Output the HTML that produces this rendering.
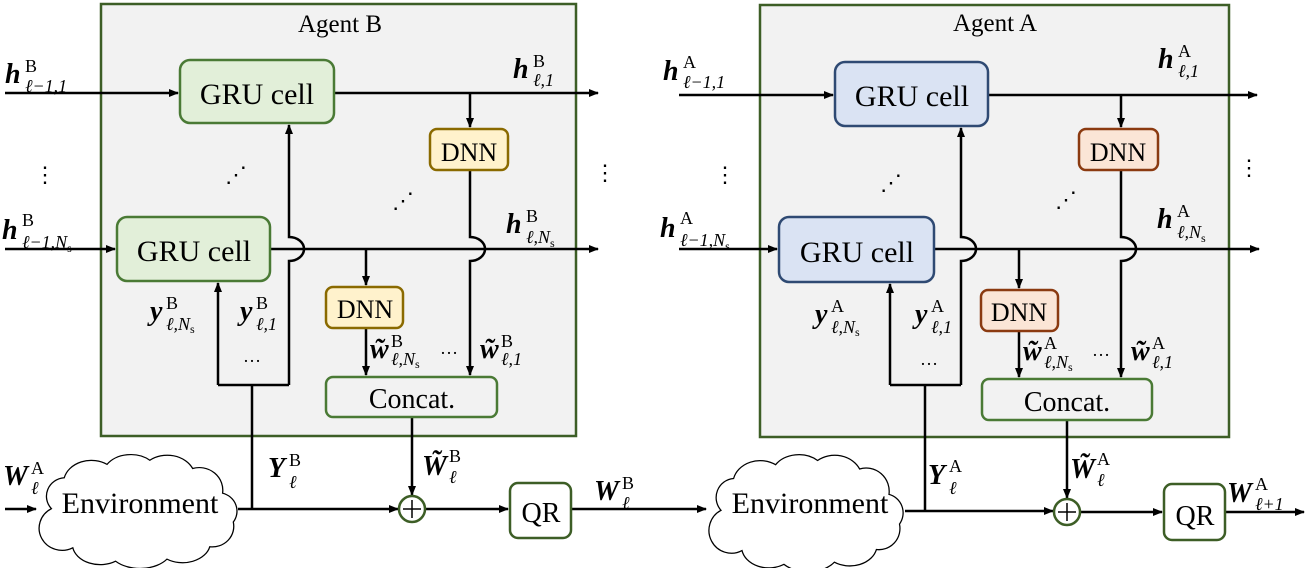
<!DOCTYPE html>
<html><head><meta charset="utf-8"><style>
html,body{margin:0;padding:0;background:#fff;}
svg text, svg tspan{font-family:"Liberation Serif","Times New Roman",Times,"DejaVu Serif",serif;}
.m{font-weight:bold;font-style:italic;font-size:28px;}
.s{font-size:18px;}
.si{font-size:18px;font-style:italic;}
.t{font-size:30px;}
</style></head><body>
<svg width="1308" height="568" viewBox="0 0 1308 568" xmlns="http://www.w3.org/2000/svg" font-family="'Liberation Serif', 'Times New Roman', Times, serif">
<defs>
<marker id="ar" markerWidth="10" markerHeight="8" refX="9" refY="4" orient="auto" markerUnits="userSpaceOnUse">
<path d="M0,0 L10,4 L0,8 Z" fill="#000"/></marker>
<path id="cloud" d="M20,55 A18,18 0 0 1 32,25 A26,22 0 0 1 72,12 A26,20 0 0 1 112,8 A26,22 0 0 1 152,16 A22,22 0 0 1 180,40 A18,18 0 0 1 190,68 A20,20 0 0 1 168,92 A26,20 0 0 1 128,104 A30,20 0 0 1 80,106 A26,20 0 0 1 40,93 A18,18 0 0 1 20,55 Z" fill="#fff" stroke="#000" stroke-width="1.2"/>
</defs>
<g fill="none" stroke-width="2.5">
<rect x="101" y="4" width="475" height="432" fill="#f2f2f2" stroke="#3d5e26"/>
<rect x="760" y="5" width="469" height="432" fill="#f2f2f2" stroke="#3d5e26"/>
</g>
<g fill="none" stroke="#000" stroke-width="2.5">
<line x1="5" y1="93" x2="178" y2="93" marker-end="url(#ar)"/>
<line x1="5" y1="249" x2="115" y2="249" marker-end="url(#ar)"/>
<line x1="334" y1="93" x2="598" y2="93" marker-end="url(#ar)"/>
<line x1="270" y1="249" x2="598" y2="249" marker-end="url(#ar)"/>
<line x1="470" y1="93" x2="470" y2="127" marker-end="url(#ar)"/>
<path d="M470,170 L470,237 A15,12 0 0 1 470,261 L470,375" marker-end="url(#ar)"/>
<line x1="366" y1="249" x2="366" y2="285" marker-end="url(#ar)"/>
<line x1="366" y1="328" x2="366" y2="375" marker-end="url(#ar)"/>
<path d="M252,509 L252,385 M218,385 L289,385 M289,385 L289,261 A15,12 0 0 0 289,237 L289,125" marker-end="url(#ar)"/>
<line x1="218" y1="385" x2="218" y2="283" marker-end="url(#ar)"/>
<line x1="412" y1="417" x2="412" y2="495" marker-end="url(#ar)"/>
<line x1="238" y1="509" x2="398" y2="509" marker-end="url(#ar)"/>
<line x1="425" y1="509" x2="508" y2="509" marker-end="url(#ar)"/>
<line x1="571" y1="509" x2="706" y2="509" marker-end="url(#ar)"/>
<line x1="5" y1="509" x2="36" y2="509" marker-end="url(#ar)"/>
<line x1="679" y1="95" x2="833" y2="95" marker-end="url(#ar)"/>
<line x1="679" y1="249" x2="777" y2="249" marker-end="url(#ar)"/>
<line x1="988" y1="95" x2="1257" y2="95" marker-end="url(#ar)"/>
<line x1="934" y1="249" x2="1259" y2="249" marker-end="url(#ar)"/>
<line x1="1121" y1="95" x2="1121" y2="127" marker-end="url(#ar)"/>
<path d="M1121,170 L1121,237 A15,12 0 0 1 1121,261 L1121,377" marker-end="url(#ar)"/>
<line x1="1019" y1="249" x2="1019" y2="288" marker-end="url(#ar)"/>
<line x1="1019" y1="331" x2="1019" y2="377" marker-end="url(#ar)"/>
<path d="M925,510 L925,385 M890,385 L961,385 M961,385 L961,261 A15,12 0 0 0 961,237 L961,128" marker-end="url(#ar)"/>
<line x1="890" y1="385" x2="890" y2="284" marker-end="url(#ar)"/>
<line x1="1067" y1="420" x2="1067" y2="498" marker-end="url(#ar)"/>
<line x1="905" y1="511" x2="1053" y2="511" marker-end="url(#ar)"/>
<line x1="1080" y1="512" x2="1162" y2="512" marker-end="url(#ar)"/>
<line x1="1225" y1="512" x2="1304" y2="512" marker-end="url(#ar)"/>
</g>
<g stroke-width="2.5">
<rect x="180" y="60" width="154" height="63" rx="10" fill="#e2efd9" stroke="#4a7a35"/>
<rect x="117" y="217" width="153" height="64" rx="10" fill="#e2efd9" stroke="#4a7a35"/>
<rect x="430" y="129" width="78" height="41" rx="7" fill="#fff2cc" stroke="#8a6a00"/>
<rect x="326" y="287" width="77" height="41" rx="7" fill="#fff2cc" stroke="#8a6a00"/>
<rect x="326" y="377" width="171" height="40" rx="7" fill="#f2f2f2" stroke="#4a7a35"/>
<rect x="510" y="483" width="61" height="55" rx="8" fill="#fff" stroke="#3d5e26"/>
<circle cx="412" cy="509" r="13" fill="#fff" stroke="#3d5e26"/>
<rect x="835" y="62" width="153" height="64" rx="10" fill="#dae3f3" stroke="#2f4a73"/>
<rect x="779" y="217" width="155" height="65" rx="10" fill="#dae3f3" stroke="#2f4a73"/>
<rect x="1079" y="129" width="79" height="41" rx="7" fill="#fbe5d6" stroke="#8b3a10"/>
<rect x="981" y="290" width="77" height="41" rx="7" fill="#fbe5d6" stroke="#8b3a10"/>
<rect x="982" y="379" width="170" height="41" rx="7" fill="#f2f2f2" stroke="#4a7a35"/>
<rect x="1164" y="484" width="61" height="56" rx="8" fill="#fff" stroke="#3d5e26"/>
<circle cx="1067" cy="512" r="13" fill="#fff" stroke="#3d5e26"/>
</g>
<g stroke="#000" stroke-width="1.5"><line x1="412" y1="500" x2="412" y2="518"/><line x1="403" y1="509" x2="421" y2="509"/>
<line x1="1067" y1="503" x2="1067" y2="521"/><line x1="1058" y1="512" x2="1076" y2="512"/></g>
<use href="#cloud" transform="translate(30,452) scale(1.07,1.03)"/>
<use href="#cloud" transform="translate(700,452) scale(1.05,1.06)"/>
<g class="t" text-anchor="middle">
<text x="340" y="32" style="font-size:25px">Agent B</text>
<text x="995" y="31" style="font-size:25px">Agent A</text>
<text x="257" y="104">GRU cell</text>
<text x="194" y="261">GRU cell</text>
<text x="469" y="161" style="font-size:26px">DNN</text>
<text x="365" y="318" style="font-size:26px">DNN</text>
<text x="412" y="408" style="font-size:28px">Concat.</text>
<text x="541" y="522" style="font-size:28px">QR</text>
<text x="140" y="513" style="font-size:30px">Environment</text>
<text x="810" y="513" style="font-size:30px">Environment</text>
<text x="912" y="106">GRU cell</text>
<text x="857" y="262">GRU cell</text>
<text x="1118" y="161" style="font-size:26px">DNN</text>
<text x="1019" y="321" style="font-size:26px">DNN</text>
<text x="1067" y="411" style="font-size:28px">Concat.</text>
<text x="1195" y="525" style="font-size:28px">QR</text>
</g>
<g font-size="22">
<text x="34" y="182">⋮</text><text x="594" y="180">⋮</text>
<text x="714" y="182">⋮</text><text x="1238" y="175">⋮</text>
<text x="225" y="182">⋰</text><text x="392" y="208">⋰</text>
<text x="880" y="190">⋰</text><text x="1055" y="207">⋰</text>
<text x="243" y="362" font-size="18">…</text><text x="920" y="365" font-size="18">…</text>
<text x="440" y="354" font-size="18">…</text><text x="1092" y="356" font-size="18">…</text>
</g>
<g>
<text x="5" y="83"><tspan class="m">h</tspan><tspan class="s" x="25" y="72">B</tspan><tspan class="si" x="25" y="92">ℓ−1,1</tspan></text>
<text x="2" y="239"><tspan class="m">h</tspan><tspan class="s" x="22" y="226">B</tspan><tspan class="si" x="22" y="248">ℓ−1,N</tspan><tspan style="font-size:12px" y="252">s</tspan></text>
<text x="513" y="78"><tspan class="m">h</tspan><tspan class="s" x="533" y="67">B</tspan><tspan class="si" x="533" y="86">ℓ,1</tspan></text>
<text x="506" y="233"><tspan class="m">h</tspan><tspan class="s" x="526" y="222">B</tspan><tspan class="si" x="526" y="243">ℓ,N</tspan><tspan style="font-size:12px" y="247">s</tspan></text>
<text x="150" y="320"><tspan class="m">y</tspan><tspan class="s" x="166" y="309">B</tspan><tspan class="si" x="166" y="330">ℓ,N</tspan><tspan style="font-size:12px" y="333">s</tspan></text>
<text x="240" y="320"><tspan class="m">y</tspan><tspan class="s" x="256" y="309">B</tspan><tspan class="si" x="256" y="330">ℓ,1</tspan></text>
<text x="370" y="358"><tspan class="m">w̃</tspan><tspan class="s" x="391" y="347">B</tspan><tspan class="si" x="391" y="365">ℓ,N</tspan><tspan style="font-size:12px" y="368">s</tspan></text>
<text x="480" y="358"><tspan class="m">w̃</tspan><tspan class="s" x="501" y="347">B</tspan><tspan class="si" x="501" y="365">ℓ,1</tspan></text>
<text x="422" y="475"><tspan class="m">W̃</tspan><tspan class="s" x="449" y="462">B</tspan><tspan class="si" x="449" y="483">ℓ</tspan></text>
<text x="268" y="477"><tspan class="m">Y</tspan><tspan class="s" x="289" y="466">B</tspan><tspan class="si" x="289" y="488">ℓ</tspan></text>
<text x="3" y="485"><tspan class="m">W</tspan><tspan class="s" x="31" y="474">A</tspan><tspan class="si" x="31" y="494">ℓ</tspan></text>
<text x="594" y="500"><tspan class="m">W</tspan><tspan class="s" x="622" y="489">B</tspan><tspan class="si" x="622" y="509">ℓ</tspan></text>
</g>
<g>
<text x="663" y="80"><tspan class="m">h</tspan><tspan class="s" x="683" y="68">A</tspan><tspan class="si" x="683" y="88">ℓ−1,1</tspan></text>
<text x="660" y="237"><tspan class="m">h</tspan><tspan class="s" x="680" y="224">A</tspan><tspan class="si" x="680" y="246">ℓ−1,N</tspan><tspan style="font-size:12px" y="250">s</tspan></text>
<text x="1158" y="68"><tspan class="m">h</tspan><tspan class="s" x="1178" y="57">A</tspan><tspan class="si" x="1178" y="77">ℓ,1</tspan></text>
<text x="1157" y="228"><tspan class="m">h</tspan><tspan class="s" x="1177" y="217">A</tspan><tspan class="si" x="1177" y="238">ℓ,N</tspan><tspan style="font-size:12px" y="242">s</tspan></text>
<text x="815" y="323"><tspan class="m">y</tspan><tspan class="s" x="831" y="312">A</tspan><tspan class="si" x="831" y="333">ℓ,N</tspan><tspan style="font-size:12px" y="336">s</tspan></text>
<text x="915" y="323"><tspan class="m">y</tspan><tspan class="s" x="931" y="312">A</tspan><tspan class="si" x="931" y="333">ℓ,1</tspan></text>
<text x="1023" y="360"><tspan class="m">w̃</tspan><tspan class="s" x="1044" y="349">A</tspan><tspan class="si" x="1044" y="368">ℓ,N</tspan><tspan style="font-size:12px" y="371">s</tspan></text>
<text x="1131" y="360"><tspan class="m">w̃</tspan><tspan class="s" x="1152" y="349">A</tspan><tspan class="si" x="1152" y="368">ℓ,1</tspan></text>
<text x="1070" y="478"><tspan class="m">W̃</tspan><tspan class="s" x="1097" y="465">A</tspan><tspan class="si" x="1097" y="486">ℓ</tspan></text>
<text x="928" y="484"><tspan class="m">Y</tspan><tspan class="s" x="949" y="472">A</tspan><tspan class="si" x="949" y="494">ℓ</tspan></text>
<text x="1227" y="502"><tspan class="m">W</tspan><tspan class="s" x="1255" y="490">A</tspan><tspan class="si" x="1255" y="510">ℓ+1</tspan></text>
</g>
</svg>
</body></html>
